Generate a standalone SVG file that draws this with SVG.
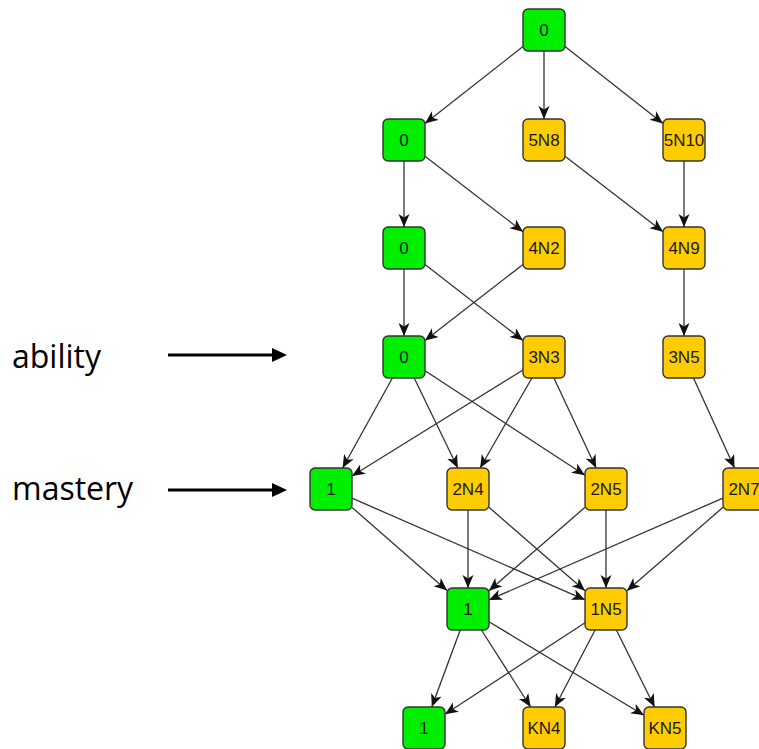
<svg xmlns="http://www.w3.org/2000/svg" width="759" height="749" viewBox="0 0 759 749">
<style>
.g{fill:#00ee00;stroke:#333;stroke-width:1.4}
.y{fill:#ffcc00;stroke:#333;stroke-width:1.4}
.t{font-family:"Liberation Sans",Arial,sans-serif;font-size:17px;fill:#1a1a1a;text-anchor:middle}
.e line{stroke:#333;stroke-width:1.3;marker-end:url(#ah)}
.lab{font-family:"Open Sans",sans-serif;font-size:32px;fill:#000}
</style>
<defs>
<marker id="ah" markerUnits="userSpaceOnUse" markerWidth="16" markerHeight="12" refX="13" refY="5.5" orient="auto">
<path d="M0,0 L13,5.5 L0,11 L3.5,5.5 z" fill="#111"/>
</marker>
</defs>
<rect width="759" height="749" fill="#fff"/>
<g id="labels">
<text class="lab" x="12" y="368">ability</text>
<text class="lab" x="12" y="500">mastery</text>
<line x1="168" y1="355" x2="274" y2="355" stroke="#000" stroke-width="3"/>
<polygon points="272,348 287,355 272,362" fill="#000"/>
<line x1="168" y1="490" x2="274" y2="490" stroke="#000" stroke-width="3"/>
<polygon points="272,483 287,490 272,497" fill="#000"/>
</g>
<g id="edges" class="e">
<line x1="523" y1="46.5" x2="425" y2="123.5"/>
<line x1="544" y1="51" x2="544" y2="119"/>
<line x1="565" y1="46.5" x2="663" y2="123.5"/>
<line x1="404" y1="161" x2="404" y2="227"/>
<line x1="425" y1="156.2" x2="523" y2="231.8"/>
<line x1="565" y1="156.2" x2="663" y2="231.8"/>
<line x1="684" y1="161" x2="684" y2="227"/>
<line x1="404" y1="269" x2="404" y2="336"/>
<line x1="425" y1="264.4" x2="523" y2="340.6"/>
<line x1="523" y1="264.4" x2="425" y2="340.6"/>
<line x1="684" y1="269" x2="684" y2="336"/>
<line x1="392.4" y1="378" x2="342.6" y2="468"/>
<line x1="414.2" y1="378" x2="457.8" y2="468"/>
<line x1="425" y1="370.7" x2="585" y2="475.3"/>
<line x1="523" y1="370" x2="352" y2="476"/>
<line x1="531.9" y1="378" x2="480.1" y2="468"/>
<line x1="553.9" y1="378" x2="596.1" y2="468"/>
<line x1="693.5" y1="378" x2="734.5" y2="468"/>
<line x1="352" y1="507.4" x2="447" y2="590.6"/>
<line x1="352" y1="498.2" x2="585" y2="599.8"/>
<line x1="468" y1="510" x2="468" y2="588"/>
<line x1="489" y1="507.3" x2="585" y2="590.7"/>
<line x1="585" y1="507.3" x2="489" y2="590.7"/>
<line x1="606" y1="510" x2="606" y2="588"/>
<line x1="723" y1="498.1" x2="489" y2="599.9"/>
<line x1="723" y1="507.3" x2="627" y2="590.7"/>
<line x1="460.2" y1="630" x2="431.8" y2="707"/>
<line x1="481.4" y1="630" x2="530.6" y2="707"/>
<line x1="489" y1="621.7" x2="644" y2="715.3"/>
<line x1="585" y1="622.7" x2="445" y2="714.3"/>
<line x1="595.1" y1="630" x2="554.9" y2="707"/>
<line x1="616.4" y1="630" x2="654.6" y2="707"/>
</g>
<g id="n1"><rect class="g" x="523" y="9" width="42" height="42" rx="5"/><text class="t" x="544" y="36">0</text></g>
<g id="n2a"><rect class="g" x="383" y="119" width="42" height="42" rx="5"/><text class="t" x="404" y="146">0</text></g>
<g id="n2b"><rect class="y" x="523" y="119" width="42" height="42" rx="5"/><text class="t" x="544" y="146">5N8</text></g>
<g id="n2c"><rect class="y" x="663" y="119" width="42" height="42" rx="5"/><text class="t" x="684" y="146">5N10</text></g>
<g id="n3a"><rect class="g" x="383" y="227" width="42" height="42" rx="5"/><text class="t" x="404" y="254">0</text></g>
<g id="n3b"><rect class="y" x="523" y="227" width="42" height="42" rx="5"/><text class="t" x="544" y="254">4N2</text></g>
<g id="n3c"><rect class="y" x="663" y="227" width="42" height="42" rx="5"/><text class="t" x="684" y="254">4N9</text></g>
<g id="n4a"><rect class="g" x="383" y="336" width="42" height="42" rx="5"/><text class="t" x="404" y="363">0</text></g>
<g id="n4b"><rect class="y" x="523" y="336" width="42" height="42" rx="5"/><text class="t" x="544" y="363">3N3</text></g>
<g id="n4c"><rect class="y" x="663" y="336" width="42" height="42" rx="5"/><text class="t" x="684" y="363">3N5</text></g>
<g id="n5a"><rect class="g" x="310" y="468" width="42" height="42" rx="5"/><text class="t" x="331" y="495">1</text></g>
<g id="n5b"><rect class="y" x="447" y="468" width="42" height="42" rx="5"/><text class="t" x="468" y="495">2N4</text></g>
<g id="n5c"><rect class="y" x="585" y="468" width="42" height="42" rx="5"/><text class="t" x="606" y="495">2N5</text></g>
<g id="n5d"><rect class="y" x="723" y="468" width="42" height="42" rx="5"/><text class="t" x="744" y="495">2N7</text></g>
<g id="n6a"><rect class="g" x="447" y="588" width="42" height="42" rx="5"/><text class="t" x="468" y="615">1</text></g>
<g id="n6b"><rect class="y" x="585" y="588" width="42" height="42" rx="5"/><text class="t" x="606" y="615">1N5</text></g>
<g id="n7a"><rect class="g" x="403" y="707" width="42" height="42" rx="5"/><text class="t" x="424" y="734">1</text></g>
<g id="n7b"><rect class="y" x="523" y="707" width="42" height="42" rx="5"/><text class="t" x="544" y="734">KN4</text></g>
<g id="n7c"><rect class="y" x="644" y="707" width="42" height="42" rx="5"/><text class="t" x="665" y="734">KN5</text></g>
</svg>
